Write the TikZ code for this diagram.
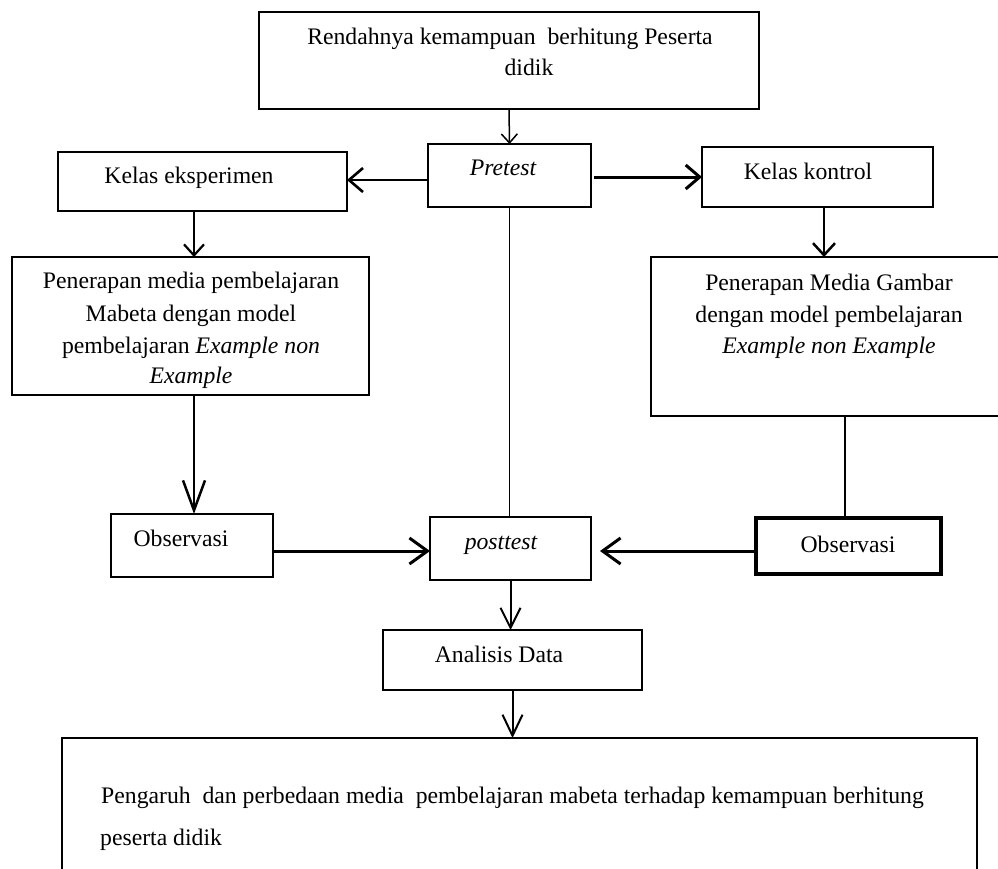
\documentclass[tikz,border=0pt]{standalone}
\usepackage{fontspec}
\setmainfont{Liberation Serif}
\usetikzlibrary{arrows.meta}
\begin{document}
\begin{tikzpicture}[x=1pt,y=-1pt,
  box/.style={draw, line width=1.3pt, rectangle, inner sep=0pt, outer sep=0pt},
  txt/.style={anchor=base, inner sep=0pt, font=\fontsize{23.7}{28}\selectfont},
  ltxt/.style={anchor=base west, inner sep=0pt, font=\fontsize{23.7}{28}\selectfont}]
\useasboundingbox (0,0) rectangle (998,868);
\clip (0,0) rectangle (998,868);

% boxes
\node[box, minimum width=500pt, minimum height=97pt] (top) at (509,60.5) {};
\node[box, minimum width=163pt, minimum height=63pt] (pre) at (509.5,175.5) {};
\node[box, minimum width=289pt, minimum height=59pt] (ke) at (202.5,181.5) {};
\node[box, minimum width=231pt, minimum height=60pt] (kk) at (817.5,177) {};
\node[box, minimum width=357pt, minimum height=138pt] (pl) at (190.5,326) {};
\node[box, minimum width=380pt, minimum height=159pt, anchor=north west] (pr) at (651,257) {};
\node[box, minimum width=162pt, minimum height=63pt] (ol) at (192,545.5) {};
\node[box, minimum width=161pt, minimum height=63pt] (post) at (510.5,548.5) {};
\node[box, line width=4pt, minimum width=185pt, minimum height=56pt] (or) at (848.5,546) {};
\node[box, minimum width=259pt, minimum height=60pt] (an) at (512.5,660) {};
\node[box, minimum width=915pt, minimum height=200pt, anchor=north west] (bot) at (62,738) {};

% texts
\node[txt] (t1) at (510,44) {Rendahnya kemampuan~ berhitung Peserta};
\node[txt] (t2) at (529,75) {didik};
\node[txt] (tpre) at (503,175) {\itshape Pretest};
\node[txt] (tke) at (189,183) {Kelas eksperimen};
\node[txt] (tkk) at (808,179) {Kelas kontrol};
\node[txt] (tpl1) at (191,288) {Penerapan media pembelajaran};
\node[txt] (tpl2) at (191,321) {Mabeta dengan model};
\node[txt] (tpl3) at (191,353) {pembelajaran \textit{Example non}};
\node[txt] (tpl4) at (191,383) {\itshape Example};
\node[txt] (tpr1) at (829,290) {Penerapan Media Gambar};
\node[txt] (tpr2) at (829,322) {dengan model pembelajaran};
\node[txt] (tpr3) at (829,353) {\itshape Example non Example};
\node[txt] (tol) at (181,546) {Observasi};
\node[txt] (tpost) at (501,549) {\itshape posttest};
\node[txt] (tor) at (848,552) {Observasi};
\node[txt] (tan) at (499,662) {Analisis Data};
\node[ltxt] (tb1) at (101,803) {Pengaruh~ dan perbedaan media~ pembelajaran mabeta terhadap kemampuan berhitung};
\node[ltxt] (tb2) at (100,845) {peserta didik};

% helper coordinates
\coordinate (preL) at ([yshift=-4.5pt]pre.west);
\coordinate (preR) at ([xshift=3pt,yshift=-1.5pt]pre.east);
\coordinate (keB) at ([xshift=-8.5pt]ke.south);
\coordinate (kkB) at ([xshift=6.5pt]kk.south);
\coordinate (plB) at ([xshift=3.5pt]pl.south);
\coordinate (prB) at (845,416);
\coordinate (olR) at ([yshift=-5.5pt]ol.east);
\coordinate (orL) at ([yshift=-5pt]or.west);
\coordinate (postR) at ([xshift=9pt]post.east);

% connectors
\draw[line width=1.5pt, -{Straight Barb[length=9pt,width=16pt]}] (top.south) -- (pre.north);
\draw[line width=2.6pt, -{Straight Barb[length=14pt,width=24pt]}] (preL) -- (preL -| ke.east);
\draw[line width=3pt, -{Straight Barb[length=14pt,width=24pt]}] (preR) -- (preR -| kk.west);
\draw[line width=2.2pt, -{Straight Barb[length=11pt,width=20pt]}] (keB) -- (keB |- pl.north);
\draw[line width=2.5pt, -{Straight Barb[length=12pt,width=22pt]}] (kkB) -- (kkB |- pr.north);
\draw[line width=2.5pt, -{Straight Barb[length=30pt,width=22pt]}] (plB) -- (plB |- ol.north);
\draw[line width=1.8pt] (pre.south) -- (pre.south |- post.north);
\draw[line width=1.6pt] (prB) -- (prB |- or.north);
\draw[line width=3pt, -{Straight Barb[length=18pt,width=26pt]}] (olR) -- (olR -| post.west);
\draw[line width=3pt, -{Straight Barb[length=18pt,width=26pt]}] (orL) -- (orL -| postR);
\draw[line width=2pt, -{Straight Barb[length=20pt,width=20pt]}] (post.south) -- (post.south |- an.north);
\draw[line width=2pt, -{Straight Barb[length=21pt,width=20pt]}] (an.south) -- (an.south |- bot.north);
\end{tikzpicture}
\end{document}
